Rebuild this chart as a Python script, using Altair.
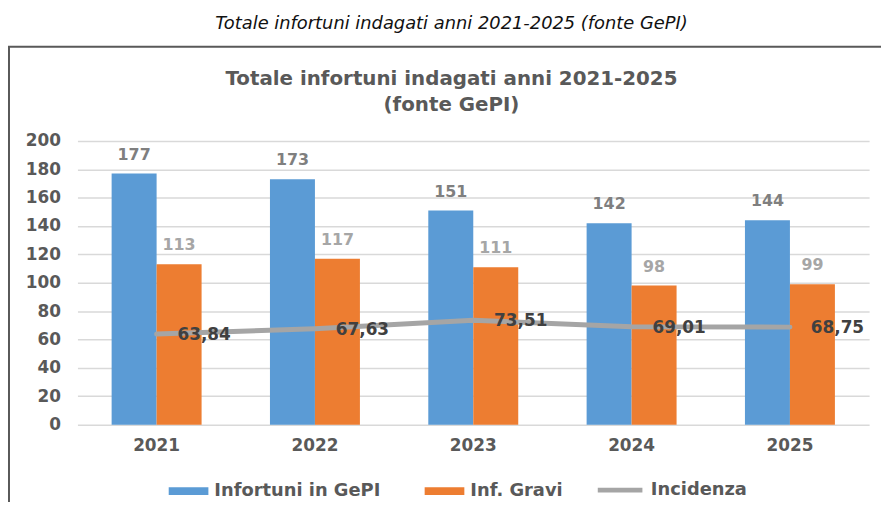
import altair as alt
import pandas as pd

years = ["2021", "2022", "2023", "2024", "2025"]
infortuni = [177, 173, 151, 142, 144]
gravi = [113, 117, 111, 98, 99]
incidenza = [63.84, 67.63, 73.51, 69.01, 68.75]
series = ["Infortuni in GePI", "Inf. Gravi", "Incidenza"]
colors = ["#5b9bd5", "#ed7d31", "#a5a5a5"]
y_ticks = [0, 20, 40, 60, 80, 100, 120, 140, 160, 180, 200]

caption = "Totale infortuni indagati anni 2021-2025 (fonte GePI)"
chart_title = ["Totale infortuni indagati anni 2021-2025", "(fonte GePI)"]

bars_df = pd.DataFrame({
    "year": years * 2,
    "series": [series[0]] * len(years) + [series[1]] * len(years),
    "value": infortuni + gravi,
})
line_df = pd.DataFrame({
    "year": years,
    "value": incidenza,
    "series": [series[2]] * len(years),
    "label": [f"{v:.2f}".replace(".", ",") for v in incidenza],
})
frame_df = pd.DataFrame({"k": [0]})

FONT = "DejaVu Sans"
AXIS_COL = "#595959"

x_axis = alt.X(
    "year:N", sort=years,
    scale=alt.Scale(paddingInner=0, paddingOuter=0),
    axis=alt.Axis(title=None, labelFont=FONT, labelFontSize=17, labelFontWeight="bold",
                  labelColor=AXIS_COL, labelPadding=13, ticks=False, tickSize=0,
                  domain=False, grid=False, labelAngle=0),
)
y_axis = alt.Y(
    "value:Q",
    scale=alt.Scale(domain=[0, 200], nice=False),
    axis=alt.Axis(title=None, values=y_ticks, tickCount=len(y_ticks), labelFont=FONT,
                  labelFontSize=17, labelFontWeight="bold", labelColor=AXIS_COL,
                  labelPadding=17, labelOverlap=False, ticks=False, tickSize=0,
                  domain=False, grid=True, gridColor="#d9d9d9", gridWidth=1.5),
)
x_plain = alt.X("year:N", sort=years)
y_plain = alt.Y("value:Q")
xoff = alt.XOffset("series:N", sort=series[:2],
                   scale=alt.Scale(domain=series[:2], paddingInner=0, paddingOuter=0.76))
bar_color = alt.Scale(domain=series[:2], range=colors[:2])

leg_common = dict(
    title=None, orient="none", direction="horizontal",
    labelFont=FONT, labelFontSize=18, labelFontWeight="bold", labelColor=AXIS_COL,
    labelLimit=400, symbolOpacity=1, labelOffset=6,
)
rect_path = "M-1,-0.2L1,-0.2L1,0.2L-1,0.2Z"

frame = alt.Chart(frame_df).mark_rect(fillOpacity=0, stroke="#595959", strokeWidth=2).encode(
    x=alt.value(-69), x2=alt.value(950), y=alt.value(-95), y2=alt.value(420)
)

bars = alt.Chart(bars_df).mark_bar().encode(
    x=x_axis, xOffset=xoff, y=y_axis,
    fill=alt.Fill("series:N", scale=bar_color,
                  legend=alt.Legend(legendX=92, legendY=333, symbolType=rect_path,
                                    symbolSize=1600, symbolStrokeWidth=0, columnPadding=44,
                                    **leg_common)),
)

bar_labels = alt.Chart(bars_df).mark_text(
    font=FONT, fontSize=16, fontWeight="bold", baseline="middle", dy=-19
).encode(
    x=x_plain, xOffset=xoff, y=y_plain, text=alt.Text("value:Q"),
    color=alt.condition(alt.datum.series == series[0], alt.value("#7f7f7f"), alt.value("#a6a6a6")),
)

line = alt.Chart(line_df).mark_line(strokeWidth=5, strokeCap="round").encode(
    x=x_plain, y=y_plain,
    stroke=alt.Stroke("series:N", scale=alt.Scale(domain=[series[2]], range=[colors[2]]),
                      legend=alt.Legend(legendX=522, legendY=327, symbolType="stroke",
                                        symbolSize=2025, symbolStrokeWidth=5, **leg_common)),
)

line_labels = alt.Chart(line_df).mark_text(
    font=FONT, fontSize=17, fontWeight="bold", align="left", baseline="middle",
    dx=21, dy=1, color="#404040"
).encode(x=x_plain, y=y_plain, text="label:N")

chart = alt.layer(frame, bars, bar_labels, line, line_labels).properties(
    width=798, height=286,
    padding={"left": 70, "top": 132, "right": 12, "bottom": 76},
    autosize=alt.AutoSizeParams(type="none"),
    background="white",
    title=alt.Title(
        text=caption, subtitle=chart_title,
        font=FONT, fontSize=18, fontStyle="italic", fontWeight="normal", color="#111111",
        subtitleFont=FONT, subtitleFontSize=20, subtitleFontWeight="bold",
        subtitleColor=AXIS_COL, subtitleLineHeight=26, subtitlePadding=37,
        anchor="middle", frame="group", dx=-22, offset=-70,
    ),
).configure_view(strokeWidth=0)

chart.save("out.html", embed_options={"renderer": "svg", "actions": False})
